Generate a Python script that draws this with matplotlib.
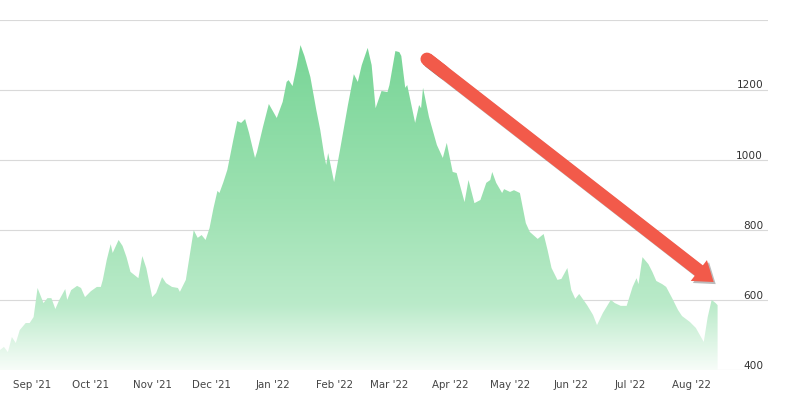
import matplotlib
matplotlib.use("Agg")
import matplotlib.pyplot as plt
import matplotlib.dates as mdates
import matplotlib.patheffects as pe
from matplotlib.colors import LinearSegmentedColormap
from matplotlib.patches import FancyArrowPatch
import numpy as np
import pandas as pd

# Series: day offsets from the first point, and values
START = "2021-08-16"
days = [0, 2, 4, 6, 8, 10, 13, 15, 17, 19, 22, 24, 26, 28, 30, 33, 34, 36, 39, 41,
        43, 46, 49, 51, 52, 54, 56, 57, 60, 62, 64, 66, 68, 70, 72, 74, 77, 79, 82, 84,
        87, 90, 91, 94, 98, 100, 102, 104, 106, 108, 110, 111, 113, 115, 116, 118, 120, 122, 124, 126,
        129, 130, 133, 136, 138, 140, 143, 145, 146, 148, 150, 152, 154, 155, 157, 160, 162, 164, 165, 166,
        169, 172, 176, 179, 181, 183, 186, 188, 190, 193, 196, 197, 200, 202, 203, 205, 206, 210, 212, 213,
        214, 217, 221, 224, 226, 229, 231, 235, 237, 240, 243, 246, 248, 249, 251, 254, 255, 258, 260, 263,
        266, 268, 272, 275, 277, 279, 282, 284, 287, 289, 291, 293, 297, 300, 302, 305, 309, 311, 314, 317,
        320, 322, 323, 325, 328, 330, 332, 335, 337, 340, 343, 345, 349, 352, 354, 356, 358, 360, 362, 363]
values = [457, 466, 451, 494, 477, 514, 534, 534, 551, 634, 591, 605, 605, 574, 600, 631, 600, 628, 640, 634,
          608, 625, 637, 637, 657, 714, 759, 734, 771, 754, 722, 680, 671, 662, 725, 691, 608, 620, 665, 648,
          637, 634, 623, 657, 799, 777, 785, 771, 805, 862, 911, 905, 936, 971, 999, 1056, 1110, 1105, 1116, 1076,
          1005, 1022, 1093, 1159, 1139, 1119, 1165, 1222, 1227, 1210, 1264, 1327, 1296, 1276, 1236, 1142, 1085, 1013, 985, 1019,
          936, 1028, 1156, 1244, 1222, 1270, 1319, 1270, 1147, 1196, 1193, 1213, 1310, 1307, 1296, 1205, 1213, 1105, 1156, 1147,
          1205, 1122, 1042, 1005, 1048, 965, 962, 879, 942, 876, 885, 934, 942, 965, 934, 905, 916, 908, 913, 905,
          819, 794, 774, 788, 742, 691, 657, 660, 691, 628, 603, 617, 585, 557, 528, 563, 600, 591, 583, 583,
          637, 662, 645, 722, 702, 680, 654, 645, 637, 605, 571, 554, 537, 520, 500, 480, 551, 600, 591, 585]

month_ticks = pd.date_range("2021-09-01", "2022-08-01", freq="MS")
y_ticks = [400, 600, 800, 1000, 1200, 1400]
y_labels = ["400", "600", "800", "1000", "1200", ""]

# trend arrow, (day offset, value) for tail and tip
arrow_from = (216, 1287)
arrow_to = (361, 651)

dates = pd.Timestamp(START) + pd.to_timedelta(days, unit="D")
x = mdates.date2num(dates)
y = np.array(values)
x0 = mdates.date2num(pd.Timestamp(START))

fig = plt.figure(figsize=(7.87, 3.97), dpi=100)
ax = fig.add_axes([0, 27 / 397, 768 / 787, 350.5 / 397])

# gradient area
fill = ax.fill_between(x, 400, y, color="none", lw=0)
cmap = LinearSegmentedColormap.from_list(
    "green_fade",
    [(0.0, (0.47, 0.835, 0.59)), (0.5, (0.62, 0.885, 0.70)),
     (0.8, (0.73, 0.92, 0.79)), (1.0, (0.97, 0.99, 0.975))])
grad = np.linspace(0, 1, 256).reshape(-1, 1)
img = ax.imshow(grad, cmap=cmap, aspect="auto", origin="upper",
                extent=[x[0], x[-1], 400, y.max()], zorder=2)
img.set_clip_path(fill.get_paths()[0], transform=ax.transData)
ax.set_xlim(x0, x0 + 388.5)
ax.set_ylim(400, 1400)

# grid
ax.set_yticks(y_ticks)
ax.set_yticklabels([])
ax.grid(axis="y", color="#d9d9d9", lw=0.8, zorder=1)
ax.set_axisbelow(True)
for s in ax.spines.values():
    s.set_visible(False)
ax.tick_params(axis="y", length=0)

for v, lab in zip(y_ticks, y_labels):
    ax.annotate(lab, xy=(1, v), xycoords=("axes fraction", "data"),
                xytext=(-3.5, 3), textcoords="offset points",
                ha="right", va="center", fontsize=7.6, color="#333333")

ax.set_xticks(mdates.date2num(month_ticks))
ax.set_xticklabels([d.strftime("%b '%y") for d in month_ticks])
ax.tick_params(axis="x", length=0, pad=7, labelsize=7.4, labelcolor="#444444")

# red arrow: round-capped tail stub plus the arrow patch
red = "#f25a4a"
ax_x = x0 + arrow_from[0]
bx = x0 + arrow_to[0]
ax.plot([ax_x, ax_x + 8], [arrow_from[1], arrow_from[1] - 35],
        color=red, lw=9.4, solid_capstyle="round", zorder=5,
        path_effects=[pe.SimpleLineShadow(offset=(1.5, -1.5), shadow_color="#555555", alpha=0.4), pe.Normal()])
arrow = FancyArrowPatch((ax_x, arrow_from[1]), (bx, arrow_to[1]),
                        arrowstyle="simple,head_length=13.5,head_width=19,tail_width=9.4",
                        mutation_scale=1, color=red, lw=0, shrinkA=0, shrinkB=0, zorder=6,
                        path_effects=[pe.SimplePatchShadow(offset=(1.5, -1.5), shadow_rgbFace="#555555", alpha=0.4),
                                      pe.Normal()])
ax.add_patch(arrow)

fig.savefig("out.png", dpi=100)
